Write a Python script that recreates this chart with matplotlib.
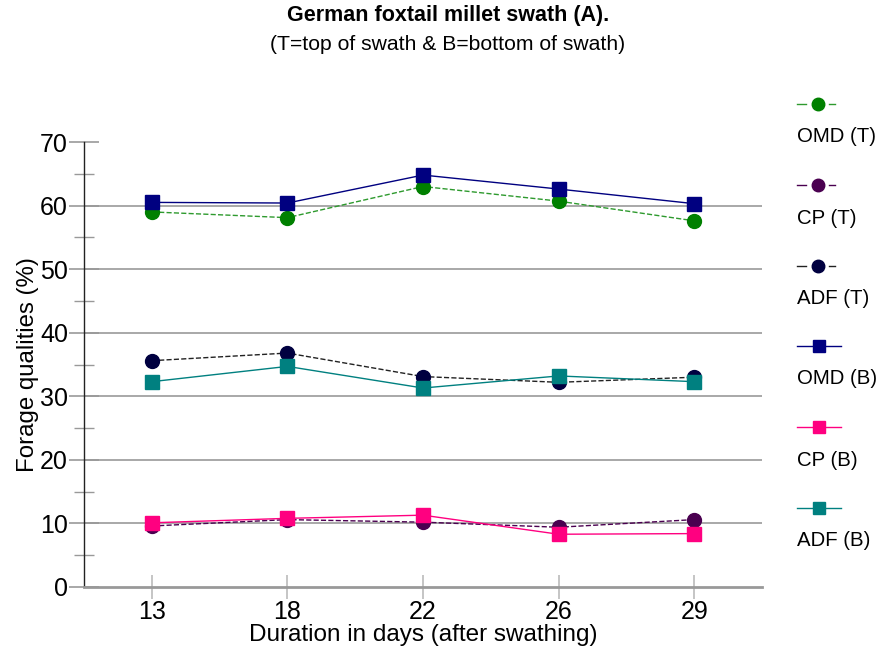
import matplotlib
matplotlib.use("Agg")
import matplotlib.pyplot as plt
from matplotlib.lines import Line2D
from matplotlib.ticker import MultipleLocator

plt.rcParams['font.family'] = ['Liberation Sans', 'DejaVu Sans']

days = ["13", "18", "22", "26", "29"]
omd_t = [59.0, 58.1, 63.0, 60.7, 57.6]
cp_t = [9.6, 10.6, 10.2, 9.4, 10.6]
adf_t = [35.6, 36.8, 33.1, 32.2, 33.0]
omd_b = [60.5, 60.4, 64.8, 62.6, 60.3]
cp_b = [10.1, 10.8, 11.3, 8.3, 8.4]
adf_b = [32.3, 34.7, 31.3, 33.2, 32.3]

series = [
    ("OMD (T)", omd_t, "#008000", "#2e9a2e", "--", "o"),
    ("CP (T)", cp_t, "#4a0050", "#4a0050", "--", "o"),
    ("ADF (T)", adf_t, "#000040", "#222222", "--", "o"),
    ("OMD (B)", omd_b, "#000080", "#000080", "-", "s"),
    ("CP (B)", cp_b, "#ff0080", "#ff0080", "-", "s"),
    ("ADF (B)", adf_b, "#008080", "#008080", "-", "s"),
]

fig = plt.figure(figsize=(8.81, 6.55), dpi=100)
ax = fig.add_axes([84/881, 1-587/655, (762-84)/881, (587-142)/655])

x = list(range(len(days)))
for name, vals, mc, lc, ls, mk in series:
    ax.plot(x, vals, color=lc, linestyle=ls, linewidth=1.0, zorder=3)
    ax.plot(x, vals, linestyle="none", marker=mk, markersize=10 if mk == "o" else 9.5,
            markerfacecolor=mc, markeredgecolor=mc, zorder=4)

ax.set_xlim(-0.5, len(days) - 0.5)
ax.set_ylim(0, 70)
ax.set_xticks(x)
ax.set_xticklabels(days)
ax.yaxis.set_major_locator(MultipleLocator(10))
ax.yaxis.set_minor_locator(MultipleLocator(5))
for yv in range(10, 70, 10):
    ax.axhline(yv, color="#999999", linewidth=1.2, zorder=1)

for s in ["top", "right"]:
    ax.spines[s].set_visible(False)
ax.spines["left"].set_color("#222222")
ax.spines["left"].set_linewidth(1.0)
ax.spines["bottom"].set_color("#999999")
ax.spines["bottom"].set_linewidth(2.0)

ax.tick_params(axis="y", which="major", direction="inout", length=22, width=1.2,
               color="#999999", labelsize=18, pad=0.5)
ax.tick_params(axis="y", which="minor", direction="inout", length=15, width=1.0, color="#999999")
ax.tick_params(axis="x", which="major", direction="inout", length=17, width=1.2,
               color="#bbbbbb", labelsize=18, pad=1)

ax.set_xlabel("Duration in days (after swathing)", fontsize=17.5, labelpad=0)
ax.set_ylabel("Forage qualities (%)", fontsize=17.3, labelpad=1)

fig.text(448/881, 1-16/655, "German foxtail millet swath (A).", ha="center", va="center",
         fontsize=15.5, fontweight="bold")
fig.text(448/881, 1-44/655, "(T=top of swath & B=bottom of swath)", ha="center", va="center",
         fontsize=15.2)

# legend
marker_y = [104, 185, 266, 346, 427, 508]
for (name, vals, mc, lc, ls, mk), my in zip(series, marker_y):
    yf = 1 - my/655
    if mk == "o":
        fig.add_artist(Line2D([797/881, 806/881], [yf, yf], color=lc, linewidth=1.0))
        fig.add_artist(Line2D([829/881, 835/881], [yf, yf], color=lc, linewidth=1.0))
        fig.add_artist(Line2D([818/881], [yf], marker="o", markersize=9, markerfacecolor=mc,
                              markeredgecolor=mc, linestyle="none"))
    else:
        fig.add_artist(Line2D([797/881, 841/881], [yf, yf], color=lc, linewidth=1.0))
        fig.add_artist(Line2D([819/881], [yf], marker="s", markersize=9, markerfacecolor=mc,
                              markeredgecolor=mc, linestyle="none"))
    fig.text(797/881, 1-(my+33)/655, name, ha="left", va="center", fontsize=14.7)

fig.savefig("out.png", dpi=100)
